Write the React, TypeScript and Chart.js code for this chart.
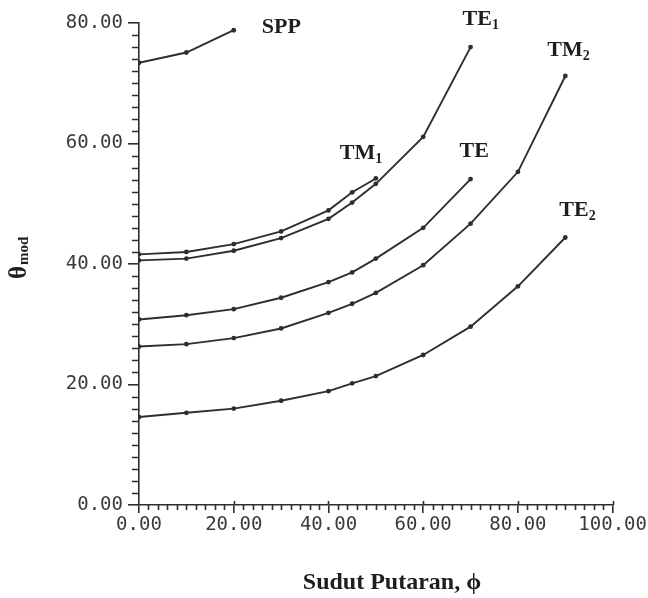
import React, { useEffect, useRef } from "react";
import { Chart, registerables } from "chart.js";

Chart.register(...registerables);

// ---- data ----
const sppPhi = [0, 10, 20];
const sppTheta = [73.4, 75.1, 78.8];

const tm1Phi = [0, 10, 20, 30, 40, 45, 50];
const tm1Theta = [41.6, 42.0, 43.3, 45.4, 48.9, 51.9, 54.2];

const te1Phi = [0, 10, 20, 30, 40, 45, 50, 60, 70];
const te1Theta = [40.6, 40.9, 42.2, 44.3, 47.5, 50.2, 53.3, 61.1, 76.0];

const tePhi = [0, 10, 20, 30, 40, 45, 50, 60, 70];
const teTheta = [30.8, 31.5, 32.5, 34.4, 37.0, 38.6, 40.9, 46.0, 54.1];

const tm2Phi = [0, 10, 20, 30, 40, 45, 50, 60, 70, 80, 90];
const tm2Theta = [26.3, 26.7, 27.7, 29.3, 31.9, 33.4, 35.2, 39.8, 46.7, 55.3, 71.2];

const te2Phi = [0, 10, 20, 30, 40, 45, 50, 60, 70, 80, 90];
const te2Theta = [14.6, 15.3, 16.0, 17.3, 18.9, 20.2, 21.4, 24.9, 29.6, 36.3, 44.4];

// label main text / subscript
const seriesNames = ["SPP", "TM", "TE", "TE", "TM", "TE"];
const seriesSubs = ["", "1", "1", "", "2", "2"];

const xTitle = "Sudut Putaran, \u03d5";
const yTitleMain = "\u03b8";
const yTitleSub = "mod";

const xMin = 0, xMax = 100, xStep = 20, xMinor = 2;
const yMin = 0, yMax = 80, yStep = 20, yMinor = 2;

const INK = "#2e2e2e";
const SERIF = "'Liberation Serif', 'DejaVu Serif', serif";
const LABEL_FONT = `bold 22px ${SERIF}`;
const SUB_FONT = `bold 14px ${SERIF}`;

// label offsets (pixels) relative to the last point of each series
const labelOffsets: [number, number][] = [
  [28, 3],
  [-36, -19],
  [-8, -22],
  [-11, -22],
  [-18, -20],
  [-6, -21],
];

function pairs(xs: number[], ys: number[]) {
  return xs.map((x, i) => ({ x, y: ys[i] }));
}

const seriesList = [
  pairs(sppPhi, sppTheta),
  pairs(tm1Phi, tm1Theta),
  pairs(te1Phi, te1Theta),
  pairs(tePhi, teTheta),
  pairs(tm2Phi, tm2Theta),
  pairs(te2Phi, te2Theta),
];

const annotPlugin = {
  id: "annot",
  afterDraw(chart: any) {
    const ctx = chart.ctx as CanvasRenderingContext2D;
    const xs = chart.scales.x;
    const ys = chart.scales.y;
    const area = chart.chartArea;
    ctx.save();
    // minor ticks
    ctx.strokeStyle = INK;
    ctx.lineWidth = 1.6;
    ctx.beginPath();
    for (let v = xMin + xMinor; v < xMax; v += xMinor) {
      const px = Math.round(xs.getPixelForValue(v)) + 0.5;
      if (Math.abs(v % xStep) < 1e-6) {
        ctx.moveTo(px, area.bottom - 4);
        ctx.lineTo(px, area.bottom);
      } else {
        ctx.moveTo(px, area.bottom);
        ctx.lineTo(px, area.bottom + 5);
      }
    }
    ctx.moveTo(Math.round(xs.getPixelForValue(xMax)) + 0.5, area.bottom - 4);
    ctx.lineTo(Math.round(xs.getPixelForValue(xMax)) + 0.5, area.bottom);
    for (let v = yMin + yMinor; v < yMax; v += yMinor) {
      if (Math.abs(v % yStep) < 1e-6) continue;
      const py = Math.round(ys.getPixelForValue(v)) + 0.5;
      ctx.moveTo(area.left - 7, py);
      ctx.lineTo(area.left, py);
    }
    ctx.stroke();

    // series labels
    ctx.fillStyle = "#1e1e1e";
    ctx.textBaseline = "alphabetic";
    ctx.textAlign = "left";
    seriesList.forEach((pts, i) => {
      const last = pts[pts.length - 1];
      const bx = xs.getPixelForValue(last.x) + labelOffsets[i][0];
      const by = ys.getPixelForValue(last.y) + labelOffsets[i][1];
      ctx.font = LABEL_FONT;
      ctx.fillText(seriesNames[i], bx, by);
      if (seriesSubs[i]) {
        const w = ctx.measureText(seriesNames[i]).width;
        ctx.font = SUB_FONT;
        ctx.fillText(seriesSubs[i], bx + w, by + 4);
      }
    });

    // x title
    ctx.font = `bold 24px ${SERIF}`;
    ctx.textAlign = "center";
    ctx.fillText(xTitle, 392, 589);

    // y title
    ctx.translate(26, 279);
    ctx.rotate(-Math.PI / 2);
    ctx.textAlign = "left";
    ctx.font = `bold 25px ${SERIF}`;
    ctx.fillText(yTitleMain, 0, 0);
    const tw = ctx.measureText(yTitleMain).width;
    ctx.font = `bold 15px ${SERIF}`;
    ctx.fillText(yTitleSub, tw + 1, 2);
    ctx.restore();
  },
};

export default function App() {
  const ref = useRef<HTMLCanvasElement | null>(null);
  useEffect(() => {
    if (!ref.current) return;
    const tickFont = { family: "'DejaVu Sans Mono', monospace", size: 19 };
    const chart = new Chart(ref.current, {
      type: "line",
      data: {
        datasets: seriesList.map((d) => ({
          data: d,
          borderColor: INK,
          backgroundColor: INK,
          borderWidth: 1.9,
          pointRadius: 2.4,
          pointBorderWidth: 0,
          pointBackgroundColor: INK,
          tension: 0,
          fill: false,
        })),
      },
      options: {
        animation: false,
        responsive: false,
        maintainAspectRatio: false,
        parsing: false as any,
        layout: { padding: { left: 0, top: 23, right: 35, bottom: 0 } },
        plugins: { legend: { display: false }, tooltip: { enabled: false }, title: { display: false } },
        scales: {
          x: {
            type: "linear",
            min: xMin,
            max: xMax,
            afterFit: (s: any) => { s.height = 93; },
            ticks: {
              stepSize: xStep,
              callback: (v: any) => Number(v).toFixed(2),
              font: tickFont,
              color: "#3a3a3a",
              maxRotation: 0,
              autoSkip: false,
              padding: 1,
            },
            grid: { drawOnChartArea: false, drawTicks: true, tickLength: 8, color: INK, lineWidth: 1.6 },
            border: { display: true, color: INK, width: 1.6 },
          },
          y: {
            type: "linear",
            min: yMin,
            max: yMax,
            afterFit: (s: any) => { s.width = 139; },
            ticks: {
              stepSize: yStep,
              callback: (v: any) => Number(v).toFixed(2),
              font: tickFont,
              color: "#3a3a3a",
              autoSkip: false,
              padding: 5,
            },
            grid: { drawOnChartArea: false, drawTicks: true, tickLength: 11, color: INK, lineWidth: 1.6 },
            border: { display: true, color: INK, width: 1.6 },
          },
        },
      },
      plugins: [annotPlugin],
    } as any);
    return () => chart.destroy();
  }, []);
  return (
    <div style={{ position: "fixed", left: 0, top: 0, width: 648, height: 598, background: "#fff" }}>
      <canvas ref={ref} width={648} height={598} style={{ width: 648, height: 598, display: "block" }} />
    </div>
  );
}
